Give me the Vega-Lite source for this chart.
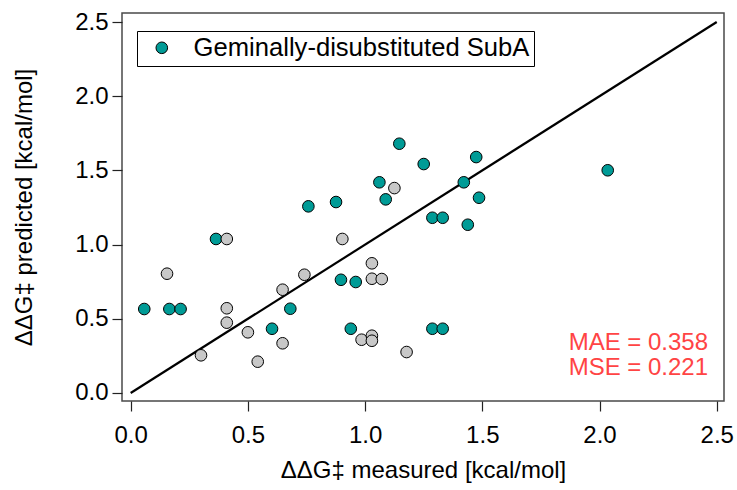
{
  "$schema": "https://vega.github.io/schema/vega-lite/v6.json",
  "autosize": "none",
  "width": 602,
  "height": 388,
  "padding": {"left": 122, "top": 13, "right": 13, "bottom": 89},
  "background": "white",
  "config": {
    "font": "Liberation Sans",
    "view": {"stroke": "#4a4a4a", "strokeWidth": 1.5},
    "axis": {
      "domain": false,
      "grid": false,
      "ticks": true,
      "tickSize": 10,
      "tickColor": "#222222",
      "tickWidth": 1.2,
      "labelFontSize": 24,
      "labelColor": "black",
      "titleFontSize": 24,
      "titleFontWeight": "normal",
      "titleColor": "black",
      "labelFont": "Liberation Sans",
      "titleFont": "Liberation Sans"
    }
  },
  "datasets": {
    "pts": [
      {"measured": 0.058, "predicted": 0.566, "group": "Geminally-disubstituted SubA"},
      {"measured": 0.165, "predicted": 0.566, "group": "Geminally-disubstituted SubA"},
      {"measured": 0.213, "predicted": 0.566, "group": "Geminally-disubstituted SubA"},
      {"measured": 0.364, "predicted": 1.038, "group": "Geminally-disubstituted SubA"},
      {"measured": 0.603, "predicted": 0.433, "group": "Geminally-disubstituted SubA"},
      {"measured": 0.681, "predicted": 0.568, "group": "Geminally-disubstituted SubA"},
      {"measured": 0.758, "predicted": 1.258, "group": "Geminally-disubstituted SubA"},
      {"measured": 0.876, "predicted": 1.287, "group": "Geminally-disubstituted SubA"},
      {"measured": 0.897, "predicted": 0.763, "group": "Geminally-disubstituted SubA"},
      {"measured": 0.960, "predicted": 0.748, "group": "Geminally-disubstituted SubA"},
      {"measured": 0.939, "predicted": 0.433, "group": "Geminally-disubstituted SubA"},
      {"measured": 1.061, "predicted": 1.420, "group": "Geminally-disubstituted SubA"},
      {"measured": 1.088, "predicted": 1.305, "group": "Geminally-disubstituted SubA"},
      {"measured": 1.146, "predicted": 1.680, "group": "Geminally-disubstituted SubA"},
      {"measured": 1.250, "predicted": 1.543, "group": "Geminally-disubstituted SubA"},
      {"measured": 1.287, "predicted": 1.181, "group": "Geminally-disubstituted SubA"},
      {"measured": 1.331, "predicted": 1.181, "group": "Geminally-disubstituted SubA"},
      {"measured": 1.287, "predicted": 0.433, "group": "Geminally-disubstituted SubA"},
      {"measured": 1.331, "predicted": 0.433, "group": "Geminally-disubstituted SubA"},
      {"measured": 1.421, "predicted": 1.420, "group": "Geminally-disubstituted SubA"},
      {"measured": 1.438, "predicted": 1.134, "group": "Geminally-disubstituted SubA"},
      {"measured": 1.474, "predicted": 1.590, "group": "Geminally-disubstituted SubA"},
      {"measured": 1.486, "predicted": 1.316, "group": "Geminally-disubstituted SubA"},
      {"measured": 2.035, "predicted": 1.501, "group": "Geminally-disubstituted SubA"},
      {"measured": 0.155, "predicted": 0.804, "group": "other"},
      {"measured": 0.410, "predicted": 1.038, "group": "other"},
      {"measured": 0.410, "predicted": 0.571, "group": "other"},
      {"measured": 0.410, "predicted": 0.474, "group": "other"},
      {"measured": 0.300, "predicted": 0.254, "group": "other"},
      {"measured": 0.500, "predicted": 0.409, "group": "other"},
      {"measured": 0.542, "predicted": 0.211, "group": "other"},
      {"measured": 0.648, "predicted": 0.335, "group": "other"},
      {"measured": 0.648, "predicted": 0.696, "group": "other"},
      {"measured": 0.741, "predicted": 0.797, "group": "other"},
      {"measured": 0.903, "predicted": 1.038, "group": "other"},
      {"measured": 0.985, "predicted": 0.359, "group": "other"},
      {"measured": 1.029, "predicted": 0.386, "group": "other"},
      {"measured": 1.029, "predicted": 0.352, "group": "other"},
      {"measured": 1.029, "predicted": 0.874, "group": "other"},
      {"measured": 1.029, "predicted": 0.770, "group": "other"},
      {"measured": 1.071, "predicted": 0.768, "group": "other"},
      {"measured": 1.125, "predicted": 1.381, "group": "other"},
      {"measured": 1.177, "predicted": 0.276, "group": "other"}
    ],
    "diag": [
      {"measured": 0, "predicted": 0},
      {"measured": 2.5, "predicted": 2.5}
    ],
    "mae": [{"label": "MAE = 0.358"}],
    "mse": [{"label": "MSE = 0.221"}]
  },
  "layer": [
    {
      "data": {"name": "diag"},
      "mark": {"type": "line", "color": "black", "strokeWidth": 2.2},
      "encoding": {
        "x": {
          "field": "measured",
          "type": "quantitative",
          "scale": {"domain": [-0.037, 2.531], "nice": false, "zero": false},
          "axis": {
            "values": [0, 0.5, 1, 1.5, 2, 2.5],
            "format": ".1f",
            "labelPadding": 12,
            "title": "ΔΔG‡ measured [kcal/mol]",
            "titlePadding": 11
          }
        },
        "y": {
          "field": "predicted",
          "type": "quantitative",
          "scale": {"domain": [-0.054, 2.561], "nice": false, "zero": false},
          "axis": {
            "values": [0, 0.5, 1, 1.5, 2, 2.5],
            "format": ".1f",
            "labelPadding": 4,
            "title": "ΔΔG‡ predicted [kcal/mol]",
            "titlePadding": 38
          }
        }
      }
    },
    {
      "data": {"name": "pts"},
      "transform": [{"filter": "datum.group === 'Geminally-disubstituted SubA'"}],
      "mark": {"type": "point", "filled": true, "size": 135, "stroke": "black", "strokeWidth": 1, "opacity": 1},
      "encoding": {
        "x": {"field": "measured", "type": "quantitative"},
        "y": {"field": "predicted", "type": "quantitative"},
        "color": {
          "field": "group",
          "type": "nominal",
          "scale": {"range": ["#009b96"]},
          "legend": {
            "title": null,
            "orient": "none",
            "legendX": 15,
            "legendY": 18,
            "strokeColor": "black",
            "fillColor": "white",
            "padding": 4,
            "symbolType": "circle",
            "symbolSize": 135,
            "symbolStrokeColor": "black",
            "symbolStrokeWidth": 1,
            "symbolOpacity": 1,
            "symbolOffset": 8,
            "labelOffset": 19,
            "labelFontSize": 25.6,
            "labelColor": "black",
            "labelLimit": 600
          }
        }
      }
    },
    {
      "data": {"name": "pts"},
      "transform": [{"filter": "datum.group === 'other'"}],
      "mark": {"type": "point", "filled": true, "size": 135, "fill": "#c8c8c8", "stroke": "black", "strokeWidth": 1, "opacity": 1},
      "encoding": {
        "x": {"field": "measured", "type": "quantitative"},
        "y": {"field": "predicted", "type": "quantitative"}
      }
    },
    {
      "data": {"name": "mae"},
      "mark": {"type": "text", "align": "right", "baseline": "middle", "fontSize": 24, "color": "#ff4444"},
      "encoding": {
        "x": {"datum": 2.463, "type": "quantitative"},
        "y": {"datum": 0.337, "type": "quantitative"},
        "text": {"field": "label", "type": "nominal"}
      }
    },
    {
      "data": {"name": "mse"},
      "mark": {"type": "text", "align": "right", "baseline": "middle", "fontSize": 24, "color": "#ff4444"},
      "encoding": {
        "x": {"datum": 2.463, "type": "quantitative"},
        "y": {"datum": 0.168, "type": "quantitative"},
        "text": {"field": "label", "type": "nominal"}
      }
    }
  ]
}
